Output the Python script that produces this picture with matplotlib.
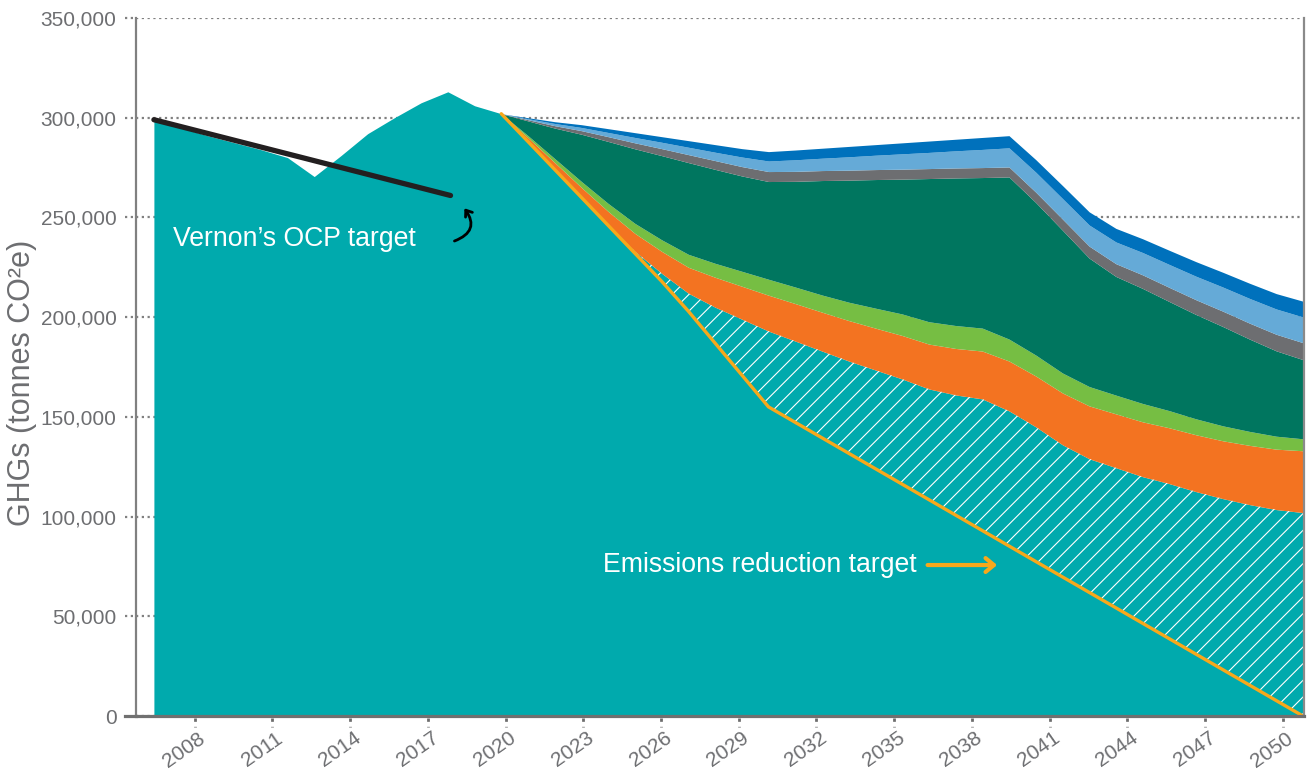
#%%
import numpy as np
import matplotlib.pyplot as plt
import matplotlib.transforms as mtransforms

plt.rcParams['font.family'] = ['Liberation Sans', 'DejaVu Sans']
plt.rcParams['hatch.linewidth'] = 0.8

#%%
# historical inventory 2007-2019 (tonnes)
hist_years = np.arange(2007, 2020)
hist_ghg = [299000, 295000, 291000, 287500, 284000, 280000, 270500,
            281000, 292000, 300000, 307500, 313000, 306000]

# projection 2020-2050, values in thousand tonnes
proj_years = np.arange(2020, 2051)
base = [302, 288, 274, 260, 246, 233, 222, 212, 205, 199, 193, 188, 183, 178,
        173.5, 169, 164, 161, 159, 153, 145, 136, 129, 124.5, 120, 116.5,
        112.5, 109, 106, 103.5, 102]
orange = [0, 2, 3.5, 5, 7, 9, 11, 13, 15, 16.5, 18, 18.8, 19.5, 20.3, 21, 21.8,
          22.5, 23.3, 24, 25, 25.5, 26, 26.5, 27, 27.5, 28, 28.5, 29, 29.7,
          30.3, 31]
green = [0, 1, 2, 3, 4, 5, 5.8, 6.5, 7, 7.5, 8, 8.3, 8.6, 9.2, 10, 10.8, 11.2,
         11.5, 11.5, 11, 10.5, 10, 9.7, 9.4, 9.2, 8.6, 8, 7.5, 7, 6.5, 6]
gray = [0, 0.6, 1.2, 1.8, 2.4, 3, 3.5, 4, 4.4, 4.7, 5, 5, 5, 5, 5, 5, 5, 5, 5,
        5, 5.2, 5.6, 6, 6.4, 6.8, 7.1, 7.4, 7.7, 8, 8.3, 8.5]
light_blue = [0, 0.5, 1.1, 1.6, 2.1, 2.7, 3.2, 3.7, 4.2, 4.8, 5.3, 5.8, 6.2,
              6.7, 7.2, 7.7, 8.1, 8.6, 9.1, 9.6, 10, 10.3, 10.6, 10.9, 11.2,
              11.5, 11.8, 12.1, 12.4, 12.7, 12.9]
dark_blue = [0, 0.5, 0.9, 1.4, 1.9, 2.4, 2.8, 3.3, 3.8, 4.2, 4.7, 4.9, 5.0,
             5.2, 5.3, 5.5, 5.7, 5.8, 6.0, 6.1, 6.3, 6.5, 6.6, 6.8, 6.9, 7.1,
             7.3, 7.4, 7.6, 7.7, 7.9]
total = [302, 300, 298, 296.5, 294.5, 292.5, 290.5, 288.5, 286.5, 284.5, 283,
         283.8, 284.7, 285.6, 286.5, 287.4, 288.3, 289.2, 290.1, 291, 279, 266,
         252.8, 244.5, 239.3, 233.5, 227.8, 222.5, 217, 211.8, 208]
target = [302, 288, 274, 260, 246, 232, 218, 203, 187, 171, 155, 147.25, 139.5,
          131.75, 124, 116.25, 108.5, 100.75, 93, 85.25, 77.5, 69.75, 62, 54.25,
          46.5, 38.75, 31, 23.25, 15.5, 7.75, 0]

# OCP target line (start / end)
ocp_years = [2007, 2018.1]
ocp_ghg = [299000, 261000]

tick_labels = [str(y) for y in range(2008, 2051, 3)]
ytick_vals = [0, 50000, 100000, 150000, 200000, 250000, 300000, 350000]
ytick_labels = ['0', '50,000', '100,000', '150,000', '200,000', '250,000',
                '300,000', '350,000']

#%%
k = 1000.0
base_t = np.array(base) * k
l_or = base_t + np.array(orange) * k
l_gr = l_or + np.array(green) * k
top_t = np.array(total) * k
l_db_bot = top_t - np.array(dark_blue) * k
l_lb_bot = l_db_bot - np.array(light_blue) * k
l_gy_bot = l_lb_bot - np.array(gray) * k
target_t = np.array(target) * k

teal_years = np.concatenate([hist_years, proj_years])
teal_vals = np.concatenate([hist_ghg, base_t])

TEAL = '#00AAAD'
txt_gray = '#6d6e71'

fig = plt.figure(figsize=(13.11, 7.69), dpi=100)
ax = fig.add_axes([136 / 1311, 53 / 769, (1304 - 136) / 1311, 698 / 769])

ax.fill_between(teal_years, 0, teal_vals, color=TEAL, lw=0, zorder=2)
ax.fill_between(proj_years, base_t, l_or, color='#F37321', lw=0, zorder=2)
ax.fill_between(proj_years, l_or, l_gr, color='#76BE43', lw=0, zorder=2)
ax.fill_between(proj_years, l_gr, l_gy_bot, color='#00765F', lw=0, zorder=2)
ax.fill_between(proj_years, l_gy_bot, l_lb_bot, color='#6D6E71', lw=0, zorder=2)
ax.fill_between(proj_years, l_lb_bot, l_db_bot, color='#65AAD7', lw=0, zorder=2)
ax.fill_between(proj_years, l_db_bot, top_t, color='#0071BC', lw=0, zorder=2)

# gap between target and projection
ax.fill_between(proj_years, target_t, base_t, where=base_t >= target_t,
                facecolor='none', edgecolor='white', hatch='//', lw=0, zorder=3)

ax.plot(proj_years, target_t, color='#F7A81B', lw=2.4, zorder=4,
        solid_capstyle='round')
ax.plot(ocp_years, ocp_ghg, color='#231F20', lw=3.8, zorder=4,
        solid_capstyle='round')

ax.set_xlim(2006.33, 2050.04)
ax.set_ylim(0, 350000)

xt = np.linspace(2008.53, 2049.24, len(tick_labels))
ax.set_xticks(xt)
ax.set_xticklabels(tick_labels, rotation=35, ha='right', fontsize=15,
                   color=txt_gray)
ax.set_yticks(ytick_vals)
ax.set_yticklabels(ytick_labels, fontsize=15, color=txt_gray)
ax.tick_params(axis='both', length=0)
ax.tick_params(axis='y', pad=14)
ax.tick_params(axis='x', pad=9)
shift = mtransforms.ScaledTranslation(0.14, 0, fig.dpi_scale_trans)
for lab in ax.get_xticklabels():
    lab.set_transform(lab.get_transform() + shift)

ax.grid(axis='y', color='#808080', linestyle=(0, (1, 1.6)), lw=1.6)
ax.set_axisbelow(True)

ax.spines['top'].set_visible(False)
ax.spines['left'].set_color('#808080')
ax.spines['left'].set_linewidth(1.6)
ax.spines['right'].set_color('#8a8a8a')
ax.spines['right'].set_linewidth(1.6)
ax.spines['bottom'].set_color('#707070')
ax.spines['bottom'].set_linewidth(2.3)
for s in ax.spines.values():
    s.set_zorder(5)

# dotted tick marks
ytr = mtransforms.blended_transform_factory(ax.transAxes, ax.transData)
for v in ytick_vals[1:]:
    ax.plot([-0.0095, 0], [v, v], transform=ytr, color='#808080',
            linestyle=(0, (1, 1.6)), lw=1.6, clip_on=False)
ax.plot([-0.0095, 0], [0, 0], transform=ytr, color='#707070', lw=2.3,
        clip_on=False)
xtr = mtransforms.blended_transform_factory(ax.transData, ax.transAxes)
for t in xt:
    ax.plot([t, t], [-0.003, -0.016], transform=xtr, color='#6d6d6d',
            linestyle=(0, (1.2, 1.8)), lw=2, clip_on=False)

fig.text(22 / 1311, 1 - 383 / 769, 'GHGs (tonnes CO²e)', rotation=90,
         fontsize=22, color=txt_gray, ha='center', va='center')

ax.text(2007.71, 235700, 'Vernon’s OCP target', color='white', fontsize=19.2,
        va='baseline', ha='left', zorder=6)
ax.annotate('', xy=(2018.56, 255700), xytext=(2018.15, 237700),
            arrowprops=dict(arrowstyle='->,head_length=0.4,head_width=0.3',
                            connectionstyle='arc3,rad=0.7', lw=2,
                            color='black'), zorder=6)

ax.text(2023.80, 72200, 'Emissions reduction target', color='white',
        fontsize=19.2, va='baseline', ha='left', zorder=6)
ax.annotate('', xy=(2038.66, 75700), xytext=(2035.85, 75700),
            arrowprops=dict(arrowstyle='->,head_length=0.6,head_width=0.5',
                            lw=3, color='#F7A81B'), zorder=6)

fig.savefig('out.png', dpi=100)
